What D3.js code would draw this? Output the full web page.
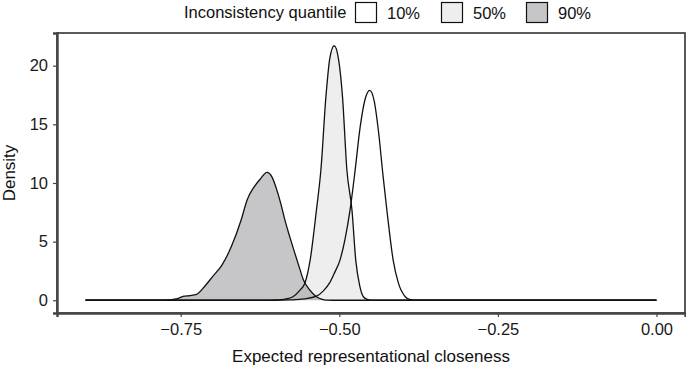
<!DOCTYPE html>
<html>
<head>
<meta charset="utf-8">
<script src="https://cdn.jsdelivr.net/npm/d3@7"></script>
<style>
  body { margin: 0; background: #fff; }
  svg { font-family: "Liberation Sans", Arial, sans-serif; }
</style>
</head>
<body>
<div id="chart"></div>
<script>
// Legend / group labels
const quantiles = ["10%", "50%", "90%"];

// Density estimates (x = closeness, y = density)
const x10 = [-0.9, -0.60, -0.578, -0.555, -0.536, -0.525, -0.515, -0.507, -0.499, -0.491, -0.483, -0.475, -0.467, -0.459, -0.452, -0.445, -0.438, -0.431, -0.425, -0.415, -0.407, -0.396, -0.388, -0.38, 0];
const y10 = [0, 0, 0.03, 0.12, 0.35, 0.8, 1.5, 2.4, 3.4, 5.2, 7.7, 11.1, 14.8, 17.2, 17.9, 17.0, 14.3, 10.6, 7.7, 3.4, 1.5, 0.3, 0.05, 0, 0];

const x50 = [-0.9, -0.62, -0.60, -0.585, -0.573, -0.563, -0.554, -0.546, -0.536, -0.529, -0.521, -0.515, -0.508, -0.501, -0.495, -0.488, -0.480, -0.474, -0.468, -0.462, -0.456, -0.450, -0.44, 0];
const y50 = [0, 0, 0.03, 0.1, 0.3, 0.8, 1.5, 3.4, 7.7, 11.1, 17.4, 20.6, 21.7, 20.5, 17.4, 11.1, 7.7, 3.4, 1.3, 0.3, 0.08, 0.01, 0, 0];

const x90 = [-0.9, -0.80, -0.775, -0.755, -0.745, -0.735, -0.725, -0.712, -0.700, -0.685, -0.670, -0.655, -0.645, -0.635, -0.625, -0.614, -0.606, -0.599, -0.592, -0.586, -0.578, -0.570, -0.563, -0.557, -0.547, -0.536, -0.528, -0.52, -0.50, 0];
const y90 = [0, 0, 0.02, 0.15, 0.35, 0.4, 0.5, 1.2, 2.0, 3.0, 4.6, 6.8, 8.6, 9.6, 10.3, 10.9, 10.5, 9.5, 8.2, 6.9, 5.4, 4.0, 2.8, 1.8, 0.9, 0.3, 0.1, 0.02, 0, 0];

const xTicks = [-0.75, -0.50, -0.25, 0.00];
const yTicks = [0, 5, 10, 15, 20];

const fills = ["#ffffff", "#dedede", "#8e8e94"];

const width = 686, height = 367;
const panel = { left: 57, right: 685, top: 33, bottom: 313 };

const svg = d3.select("#chart").append("svg")
    .attr("width", width)
    .attr("height", height);

// ggplot style expanded scales
const x = d3.scaleLinear()
    .domain([-0.945, 0.045])
    .range([panel.left, panel.right]);

const y = d3.scaleLinear()
    .domain([-1.085, 22.785])
    .range([panel.bottom, panel.top]);

const series = [
    { key: quantiles[0], pts: x10.map((v, i) => [v, y10[i]]) },
    { key: quantiles[1], pts: x50.map((v, i) => [v, y50[i]]) },
    { key: quantiles[2], pts: x90.map((v, i) => [v, y90[i]]) }
];

const area = d3.area()
    .x(d => x(d[0]))
    .y0(y(0))
    .y1(d => y(d[1]))
    .curve(d3.curveMonotoneX);

const line = d3.line()
    .x(d => x(d[0]))
    .y(d => y(d[1]))
    .curve(d3.curveMonotoneX);

const g = svg.append("g");

// fills first, then outlines
g.selectAll("path.fill")
    .data(series)
    .enter()
    .append("path")
    .attr("class", "fill")
    .attr("d", d => area(d.pts))
    .attr("fill", (d, i) => fills[i])
    .attr("fill-opacity", 0.5);

g.selectAll("path.outline")
    .data(series)
    .enter()
    .append("path")
    .attr("class", "outline")
    .attr("d", d => line(d.pts))
    .attr("fill", "none")
    .attr("stroke", "#111")
    .attr("stroke-width", 1.3);

// panel border
svg.append("rect")
    .attr("x", panel.left)
    .attr("y", panel.top)
    .attr("width", panel.right - panel.left)
    .attr("height", panel.bottom - panel.top)
    .attr("fill", "none")
    .attr("stroke", "#333")
    .attr("stroke-width", 1.6);

// axes
const xAxis = d3.axisBottom(x)
    .tickValues(xTicks)
    .tickSize(4)
    .tickPadding(6)
    .tickFormat(d => d3.format(".2f")(d).replace("-", "\u2212"));

const yAxis = d3.axisLeft(y)
    .tickValues(yTicks)
    .tickSize(4)
    .tickPadding(5);

const gx = svg.append("g")
    .attr("transform", `translate(0,${panel.bottom})`)
    .call(xAxis);

const gy = svg.append("g")
    .attr("transform", `translate(${panel.left},0)`)
    .call(yAxis);

[gx, gy].forEach(a => {
    a.select(".domain").attr("stroke", "#444").attr("stroke-width", 2.4);
    a.selectAll(".tick line").attr("stroke", "#444").attr("stroke-width", 1.2);
    a.selectAll(".tick text")
        .attr("fill", "#1a1a1a")
        .style("font-size", "16.5px")
        .style("font-family", "'Liberation Sans', Arial, sans-serif");
});

// axis titles
svg.append("text")
    .attr("x", (panel.left + panel.right) / 2)
    .attr("y", 362)
    .attr("text-anchor", "middle")
    .style("font-size", "17px")
    .attr("fill", "#111")
    .text("Expected representational closeness");

svg.append("text")
    .attr("transform", `translate(15, ${(panel.top + panel.bottom) / 2}) rotate(-90)`)
    .attr("text-anchor", "middle")
    .style("font-size", "17px")
    .attr("fill", "#111")
    .text("Density");

// legend
const legend = svg.append("g");

legend.append("text")
    .attr("x", 184)
    .attr("y", 18)
    .style("font-size", "16.5px")
    .attr("fill", "#111")
    .text("Inconsistency quantile");

const keyX = [355, 441, 526];

const keys = legend.selectAll("g.key")
    .data(quantiles)
    .enter()
    .append("g")
    .attr("class", "key")
    .attr("transform", (d, i) => `translate(${keyX[i]},2)`);

keys.append("rect")
    .attr("width", 22)
    .attr("height", 21)
    .attr("fill", "#fff");

keys.append("rect")
    .attr("x", 0.5)
    .attr("y", 0.5)
    .attr("width", 21)
    .attr("height", 20)
    .attr("fill", (d, i) => fills[i])
    .attr("fill-opacity", 0.5)
    .attr("stroke", "#111")
    .attr("stroke-width", 1.2);

keys.append("text")
    .attr("x", 32)
    .attr("y", 17)
    .style("font-size", "16.5px")
    .attr("fill", "#111")
    .text(d => d);
</script>
</body>
</html>
